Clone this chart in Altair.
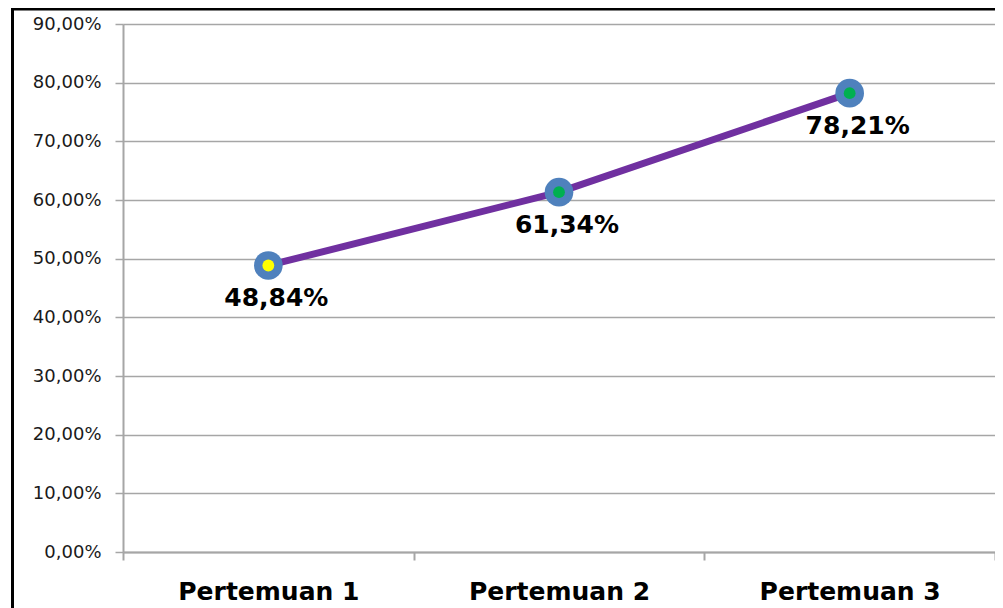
import altair as alt
import pandas as pd

categories = ["Pertemuan 1", "Pertemuan 2", "Pertemuan 3"]
values = [0.4884, 0.6134, 0.7821]
inner_colors = ["#FFFF00", "#00B050", "#00B050"]
y_ticks = [0.0, 0.1, 0.2, 0.3, 0.4, 0.5, 0.6, 0.7, 0.8, 0.9]

df = pd.DataFrame({"cat": categories, "value": values})

FONT = "DejaVu Sans"
GRAY = "#A6A6A6"

x_enc = alt.X(
    "cat:N",
    sort=categories,
    bandPosition=0.5,
    scale=alt.Scale(type="band", paddingInner=0, paddingOuter=0),
    axis=alt.Axis(
        title=None,
        labelAngle=0,
        labelFont=FONT,
        labelFontWeight="bold",
        labelFontSize=25,
        labelColor="#000000",
        labelPadding=19,
        labelLimit=400,
        tickBand="extent",
        tickSize=8,
        tickColor=GRAY,
        tickWidth=2,
        domainColor=GRAY,
        domainWidth=2,
        grid=False,
    ),
)

y_enc = alt.Y(
    "value:Q",
    scale=alt.Scale(domain=[0, 0.9], nice=False, zero=True),
    axis=alt.Axis(
        title=None,
        values=y_ticks,
        labelExpr="replace(format(datum.value, '.2%'), '.', ',')",
        labelFont=FONT,
        labelFontSize=18,
        labelColor="#1a1a1a",
        labelPadding=14,
        tickSize=8,
        tickColor=GRAY,
        tickWidth=1.5,
        domainColor=GRAY,
        domainWidth=2,
        grid=True,
        gridColor=GRAY,
        gridWidth=1.5,
    ),
)

base = alt.Chart(df)

line = base.mark_line(color="#7030A0", strokeWidth=7).encode(x=x_enc, y=y_enc)
outer = base.mark_circle(size=820, color="#4F81BD", opacity=1).encode(x=x_enc, y=y_enc)
inner = base.mark_circle(size=140, opacity=1).encode(
    x=x_enc,
    y=y_enc,
    color=alt.Color("cat:N", scale=alt.Scale(domain=categories, range=inner_colors), legend=None),
)
labels = base.mark_text(
    font=FONT, fontWeight="bold", fontSize=25, color="#000000", dx=8, dy=33, baseline="middle"
).transform_calculate(
    lbl="replace(format(datum.value, '.2%'), '.', ',')"
).encode(x=x_enc, y=y_enc, text="lbl:N")

frame_df = pd.DataFrame({"k": [0]})
top_border = alt.Chart(frame_df).mark_rule(color="#000000", strokeWidth=3).encode(
    x=alt.value(-112), x2=alt.value(880), y=alt.value(-15)
)
left_border = alt.Chart(frame_df).mark_rule(color="#000000", strokeWidth=3).encode(
    x=alt.value(-110.5), y=alt.value(-16.5), y2=alt.value(600)
)

chart = (
    alt.layer(line, outer, inner, labels, top_border, left_border)
    .properties(
        width=872,
        height=528,
        autosize=alt.AutoSizeParams(type="none"),
        padding={"left": 115, "top": 16, "right": 0, "bottom": 56},
    )
    .configure_view(strokeWidth=0)
    .configure(background="#FFFFFF")
)

chart.save("out.html", embed_options={"renderer": "svg", "actions": False})
